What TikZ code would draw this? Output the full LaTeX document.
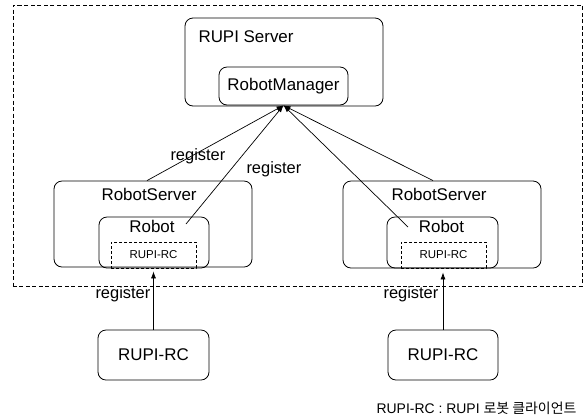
\documentclass[tikz,border=0pt]{standalone}
\usepackage{fontspec}
\setmainfont{Liberation Sans}
\newfontfamily\cjk{Noto Sans CJK KR}
\usetikzlibrary{arrows.meta,calc}
\tikzset{
  box/.style n args={2}{draw, rounded corners=8bp, line width=0.8bp,
    inner sep=0pt, minimum width=#1bp, minimum height=#2bp},
  dbox/.style n args={2}{draw, line width=0.7bp, dash pattern=on 3bp off 2bp,
    inner sep=0pt, minimum width=#1bp, minimum height=#2bp},
  outerbox/.style={draw, line width=0.7bp, dash pattern=on 4bp off 2.5bp,
    inner sep=0pt},
  big/.style={font=\fontsize{17}{20}\selectfont},
  reg/.style={font=\fontsize{16.5}{19}\selectfont},
  tiny/.style={font=\fontsize{11.5}{13}\selectfont},
  note/.style={font=\fontsize{14}{17}\selectfont},
  conn/.style={line width=0.7bp, -{Latex[length=7bp,width=5bp]}},
}
\begin{document}
\begin{tikzpicture}[x=1bp,y=-1bp]
\useasboundingbox (0,0) rectangle (585,418);

% system boundary
\node[outerbox, minimum width=569bp, minimum height=281bp] (sys) at (297.5,145.5) {};

% server side
\node[box={198}{88}] (server) at (284,62) {};
\node[big, anchor=base west] (serverlbl) at (195,42) {RUPI Server};
\node[box={129}{38}, big] (rm) at (283.5,86) {RobotManager};

% left robot server
\node[box={198}{86}] (rsL) at (153,224) {};
\node[big, anchor=base west] (rsLlbl) at (98,200) {RobotServer};
\node[box={110}{51}] (robotL) at (154,242.5) {};
\node[big, anchor=base] (robotLlbl) at (152,232) {Robot};
\node[dbox={85}{26}, tiny] (rcdL) at (153.5,255) {RUPI-RC};

% right robot server
\node[box={198}{87}] (rsR) at (442,224.5) {};
\node[big, anchor=base west] (rsRlbl) at (388,200) {RobotServer};
\node[box={111}{51}] (robotR) at (442.5,242.5) {};
\node[big, anchor=base] (robotRlbl) at (441.5,232) {Robot};
\node[dbox={85}{26}, tiny] (rcdR) at (443.5,255) {RUPI-RC};

% external clients
\node[box={111}{50}, big] (rcL) at (153.5,355) {RUPI-RC};
\node[box={110}{50}, big] (rcR) at (443,355) {RUPI-RC};

% registration towards the manager
\coordinate (rbL) at (186,224);
\coordinate (rbR) at (408,227);
\draw[conn] ($(rsL.north)+(-6,0)$) -- (rm.south);
\draw[conn] (rbL) -- (rm.south);
\draw[conn] (rbR) -- (rm.south);
\draw[conn] ($(rsR.north)+(-9,0)$) -- (rm.south);
\node[reg, anchor=base west] (regA) at (167,160) {register};
\node[reg, anchor=base west] (regB) at (243,173) {register};

% registration of clients
\coordinate (tipL) at ($(robotL.south)+(0,3)$);
\coordinate (tipR) at ($(robotR.south)+(0,4)$);
\draw[conn] (rcL.north) -- (rcL.north |- tipL);
\draw[conn] (rcR.north) -- (rcR.north |- tipR);
\node[reg, anchor=base west] (regC) at (92,298) {register};
\node[reg, anchor=base west] (regD) at (380,298) {register};

% legend
\node[note, anchor=base east] (legend) at (580,413) {RUPI-RC : RUPI {\cjk 로봇 클라이언트}};
\end{tikzpicture}
\end{document}
